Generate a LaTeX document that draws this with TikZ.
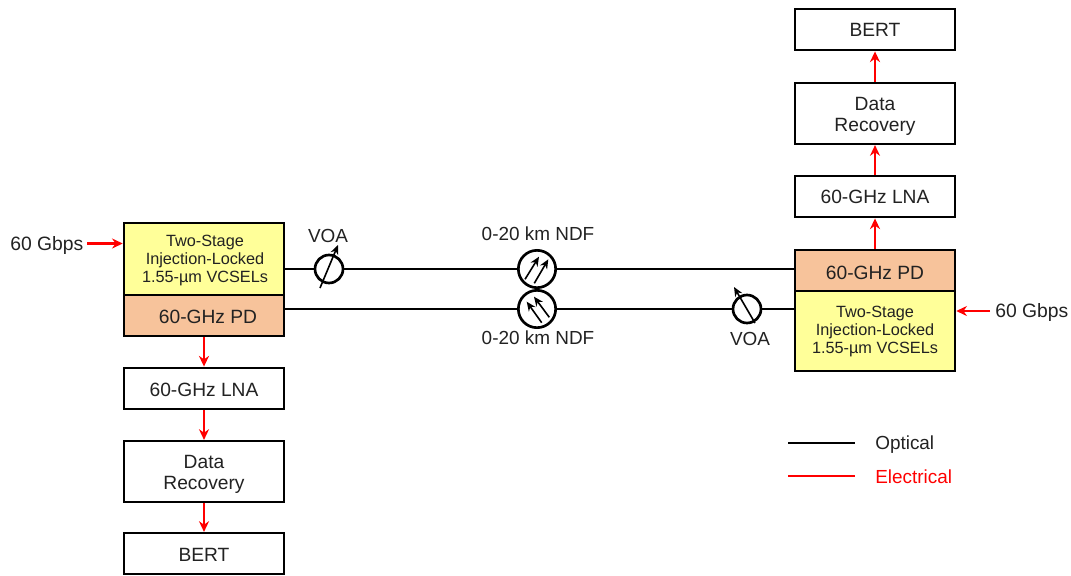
\documentclass[tikz,border=0pt]{standalone}
\usepackage{fontspec}
\setmainfont{Liberation Sans}
\usetikzlibrary{arrows.meta}
\definecolor{ink}{HTML}{222222}
\definecolor{yel}{HTML}{FFFF99}
\definecolor{ora}{HTML}{F7C39B}
\tikzset{
 x=0.75pt,y=-0.75pt,
 blk/.style={draw=black,line width=1.9pt,fill=white,minimum width=120pt,inner sep=0pt},
 yb/.style={blk,fill=yel},
 ob/.style={blk,fill=ora},
 tx/.style={text=ink,inner sep=0pt,align=center,font=\fontsize{14.4}{15.7}\selectfont},
 tsm/.style={text=ink,inner sep=0pt,align=center,font=\fontsize{12.2}{13.5}\selectfont},
 lab/.style={text=ink,inner sep=0pt,font=\fontsize{14.2}{16}\selectfont},
 glab/.style={text=ink,inner sep=0pt,font=\fontsize{14.5}{16}\selectfont},
 opt/.style={draw=black,line width=1.7pt},
 ele/.style={draw=red,line width=1.7pt,-{Stealth[length=8pt,width=7.5pt]}},
 elp/.style={draw=red,line width=1.5pt},
 att/.style={draw=black,line width=2pt,fill=white,circle,inner sep=0pt,minimum size=21pt},
 ndf/.style={att,minimum size=28pt},
 thr/.style={draw=black,line width=1.2pt,-{Stealth[length=7pt,width=6pt]}},
}
\begin{document}
\begin{tikzpicture}
\useasboundingbox (0,0) rectangle (1071,575);
% left stack
\node[yb,minimum height=54pt] (yl) at (204,259) {};
\node[ob,minimum height=30.5pt] (pl) at (204,315.5) {};
\node[blk,minimum height=31pt] (ll) at (204,388.5) {};
\node[blk,minimum height=45.5pt] (dl) at (204,471.5) {};
\node[blk,minimum height=30.5pt] (bl) at (204,553.5) {};
% right stack
\node[blk,minimum height=31pt] (br) at (875,29.5) {};
\node[blk,minimum height=45.5pt] (dr) at (875,113.5) {};
\node[blk,minimum height=31pt] (lr) at (875,196.5) {};
\node[ob,minimum height=31pt] (pr) at (875,270.5) {};
\node[yb,minimum height=60pt] (yr) at (875,331) {};
% box texts
\node[tsm] (tyl) at (205,261) {Two-Stage\\Injection-Locked\\1.55-µm VCSELs};
\node[tx] (tpl) at (208,316.5) {60-GHz PD};
\node[tx] (tll) at (204,389.5) {60-GHz LNA};
\node[tx] (tdl) at (204,474) {Data\\Recovery};
\node[tx] (tbl) at (204,555) {BERT};
\node[tx] (tbr) at (875,29.5) {BERT};
\node[tx] (tdr) at (875,116) {Data\\Recovery};
\node[tx] (tlr) at (875,197) {60-GHz LNA};
\node[tx] (tpr) at (875,272.5) {60-GHz PD};
\node[tsm] (tyr) at (875,331.5) {Two-Stage\\Injection-Locked\\1.55-µm VCSELs};
% devices
\node[att] (v1) at (329,269) {};
\node[ndf] (n1) at (537,269) {};
\node[ndf] (n2) at (537,309) {};
\node[att] (v2) at (747,309) {};
% labels
\node[glab,anchor=west] (g1) at (10,245) {60 Gbps};
\node[glab,anchor=west] (g2) at (995,312.5) {60 Gbps};
\node[lab] (tv1) at (328,236) {VOA};
\node[lab] (tv2) at (750,339) {VOA};
\node[lab] (tn1) at (538,234) {0-20 km NDF};
\node[lab] (tn2) at (538,338) {0-20 km NDF};
\node[lab,anchor=west] (to) at (875,445) {Optical};
\node[lab,anchor=west,text=red] (te) at (875,477) {Electrical};
% optical lines
\draw[opt] (yl.east |- v1) -- (v1);
\draw[opt] (v1) -- (n1);
\draw[opt] (n1) -- (pr.west |- n1);
\draw[opt] (pl.east |- n2) -- (n2);
\draw[opt] (n2) -- (v2);
\draw[opt] (v2) -- (yr.west |- v2);
% device arrows
\coordinate (a1) at (320,288); \coordinate (a2) at (338,245);
\draw[thr] (a1) -- (a2);
\coordinate (a3) at (755,323); \coordinate (a4) at (734,287);
\draw[thr] (a3) -- (a4);
\coordinate (b1) at (525,279.3); \coordinate (b2) at (539,256.7);
\coordinate (b3) at (534.3,283.3); \coordinate (b4) at (548.3,259.3);
\draw[thr] (b1) -- (b2);
\draw[thr] (b3) -- (b4);
\coordinate (c1) at (541.7,322.7); \coordinate (c2) at (526.7,301.7);
\coordinate (c3) at (549.3,317.3); \coordinate (c4) at (534,296.7);
\draw[thr] (c1) -- (c2);
\draw[thr] (c3) -- (c4);
% electrical
\draw[ele] (pl) -- (ll);
\draw[ele] (ll) -- (dl);
\draw[ele] (dl) -- (bl);
\draw[ele] (pr) -- (lr);
\draw[ele] (lr) -- (dr);
\draw[ele] (dr) -- (br);
\coordinate (g1e) at (87,243.5);
\draw[ele] (g1e) -- (yl.west |- g1e);
\coordinate (g2e) at (990,311);
\draw[ele] (g2e) -- (yr.east |- g2e);
% legend
\coordinate (lo1) at (788,443); \coordinate (lo2) at (855,443);
\coordinate (le1) at (788,476); \coordinate (le2) at (855,476);
\draw[opt] (lo1) -- (lo2);
\draw[elp] (le1) -- (le2);
\end{tikzpicture}
\end{document}
